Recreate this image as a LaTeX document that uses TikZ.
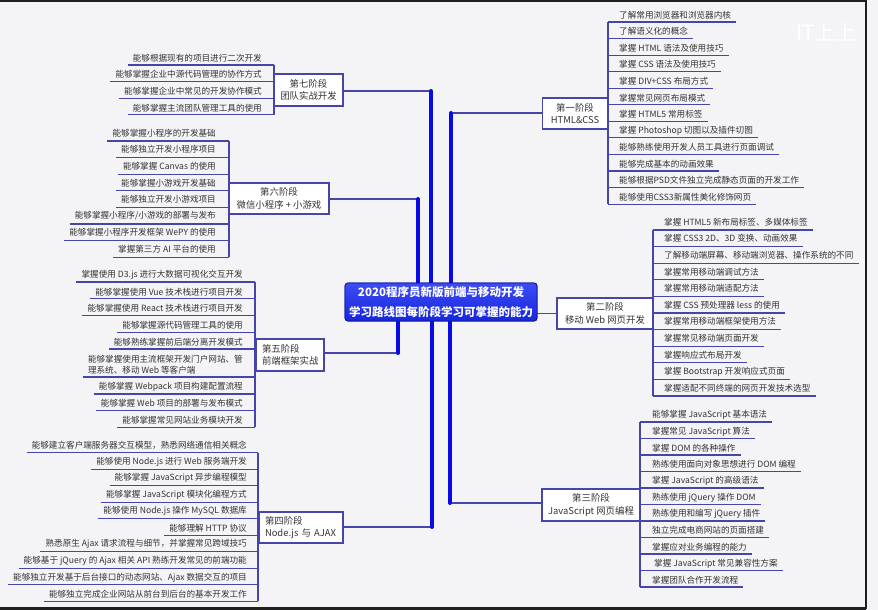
\documentclass[tikz,border=0pt]{standalone}
\usepackage{fontspec}
\newfontfamily\cjk{Noto Sans CJK SC}
\usetikzlibrary{calc}
\definecolor{bg}{HTML}{F4F4F7}
\definecolor{lineC}{HTML}{4646AA}
\definecolor{thickC}{HTML}{0A0AE6}
\definecolor{txt}{HTML}{333333}
\definecolor{rootTop}{HTML}{3C4CF5}
\definecolor{rootBot}{HTML}{1626DC}
\definecolor{rootEdge}{HTML}{1010A0}
\definecolor{frameC}{HTML}{1E1E1E}
\begin{document}
\begin{tikzpicture}[x=1pt,y=-1pt,
  itemtxt/.style={inner sep=0pt, text=txt, font=\cjk\fontsize{8.6}{10.5}\selectfont},
  uline/.style={draw=lineC, line width=1.1pt},
  stagebox/.style={draw=lineC, line width=1.1pt, fill=white, text=txt,
    font=\cjk\fontsize{9.4}{12.4}\selectfont, inner sep=0pt, align=center},
  stageboxL/.style={stagebox, align=left, inner xsep=6pt},
  rootbox/.style={rounded corners=3pt, top color=rootTop, bottom color=rootBot,
    draw=rootEdge, line width=0.8pt, text=white, align=center,
    font=\cjk\bfseries\fontsize{11.5}{20}\selectfont, inner sep=0pt},
  thickc/.style={draw=thickC, line width=4pt, line cap=round},
  thinc/.style={draw=lineC, line width=1.1pt},
]
\useasboundingbox (0,0) rectangle (878,610);
\fill[bg] (0,0) rectangle (878,610);

% watermark
\node[inner sep=0pt, anchor=west, text=white, font=\cjk\fontsize{21}{21}\selectfont] (wm) at (796,32) {IT上上};

% frame
\draw[frameC, line width=1.8pt] (0,0.9) -- (866,0.9);
\draw[frameC, line width=1.8pt] (866,0) -- (866,609);
\draw[frameC, line width=3pt] (0,608) -- (866,608);

% stage boxes
\node[stagebox, minimum width=65, minimum height=31] (s1) at (575,113.5) {第一阶段\\HTML\&CSS};
\node[stagebox, minimum width=96, minimum height=31] (s2) at (605,313.5) {第二阶段\\移动 Web 网页开发};
\node[stagebox, minimum width=98, minimum height=32] (s3) at (591,505) {第三阶段\\JavaScript 网页编程};
\node[stagebox, minimum width=69, minimum height=32] (s7) at (308.5,90) {第七阶段\\团队实战开发};
\node[stagebox, minimum width=100, minimum height=31] (s6) at (279,198.5) {第六阶段\\微信小程序 + 小游戏};
\node[stageboxL, text width=56, minimum height=32] (s5) at (290,355) {第五阶段\\前端框架实战};
\node[stageboxL, text width=72, minimum height=31] (s4) at (301,527.5) {第四阶段\\Node.js 与 AJAX};

% root
\node[rootbox, minimum width=192, minimum height=38] (root) at (441,302) {};

% connectors from root
\coordinate (k7) at (431,91);
\coordinate (k1) at (451,113);
\coordinate (k6) at (418,199);
\coordinate (k5) at (398,353);
\coordinate (k4) at (432,527);
\coordinate (k3) at (450,503);
\draw[thinc] (k7) -- (k7 -| s7.east);
\draw[thinc] (k1) -- (k1 -| s1.west);
\draw[thinc] (k6) -- (k6 -| s6.east);
\draw[thinc] (k5) -- (k5 -| s5.east);
\draw[thinc] (k4) -- (k4 -| s4.east);
\draw[thinc] (k3) -- (k3 -| s3.west);
\draw[thinc] (root.east |- s2.west) -- (s2.west);
\draw[thickc] (root.north -| k7) -- (k7);
\draw[thickc] (root.north -| k1) -- (k1);
\draw[thickc] (root.north -| k6) -- (k6);
\draw[thickc] (root.south -| k5) -- (k5);
\draw[thickc] (root.south -| k4) -- (k4);
\draw[thickc] (root.south -| k3) -- (k3);
\node[rootbox, minimum width=192, minimum height=38] (rootT) at (441,302) {2020程序员新版前端与移动开发\\学习路线图每阶段学习可掌握的能力};

% stage 1 items
\foreach \t [count=\i] in {
  {了解常用浏览器和浏览器内核},{了解语义化的概念},{掌握 HTML 语法及使用技巧},
  {掌握 CSS 语法及使用技巧},{掌握 DIV+CSS 布局方式},{掌握常见网页布局模式},
  {掌握 HTML5 常用标签},{掌握 Photoshop 切图以及插件切图},{能够熟练使用开发人员工具进行页面调试},
  {能够完成基本的动画效果},{能够根据PSD文件独立完成静态页面的开发工作},{能够使用CSS3新属性美化修饰网页}}{
  \node[itemtxt, anchor=west] (a\i) at (619,{15+16.55*(\i-1)}) {\t};
  \draw[uline] ($(a\i.west)+(-11,7)$) -- ($(a\i.east)+(5,7)$);
}
\draw[uline] ($(a1.west)+(-11,7)$) -- ($(a12.west)+(-11,7)$);

% stage 2 items
\foreach \t [count=\i] in {
  {掌握 HTML5 新布局标签、多媒体标签},{掌握 CSS3 2D、3D 变换、动画效果},
  {了解移动端屏幕、移动端浏览器、操作系统的不同},{掌握常用移动端调试方法},
  {掌握常用移动端适配方法},{掌握 CSS 预处理器 less 的使用},{掌握常用移动端框架使用方法},
  {掌握常见移动端页面开发},{掌握响应式布局开发},{掌握 Bootstrap 开发响应式页面},
  {掌握适配不同终端的网页开发技术选型}}{
  \node[itemtxt, anchor=west] (b\i) at (664,{222+16.6*(\i-1)}) {\t};
  \draw[uline] ($(b\i.west)+(-11,8)$) -- ($(b\i.east)+(5,8)$);
}
\draw[uline] ($(b1.west)+(-11,8)$) -- ($(b11.west)+(-11,8)$);

% stage 3 items
\foreach \t [count=\i] in {
  {能够掌握 JavaScript 基本语法},{掌握常见 JavaScript 算法},{掌握 DOM 的各种操作},
  {熟练使用面向对象思想进行 DOM 编程},{掌握 JavaScript 的高级语法},{熟练使用 jQuery 操作 DOM},
  {熟练使用和编写 jQuery 插件},{独立完成电商网站的页面搭建},{掌握应对业务编程的能力},
  {\kern2pt 掌握 JavaScript 常见兼容性方案},{掌握团队合作开发流程}}{
  \node[itemtxt, anchor=west] (c\i) at (652,{415+16.5*(\i-1)}) {\t};
  \draw[uline] ($(c\i.west)+(-12,7)$) -- ($(c\i.east)+(5,7)$);
}
\draw[uline] ($(c1.west)+(-12,7)$) -- ($(c11.west)+(-12,7)$);

% stage 7 items
\foreach \t [count=\i] in {
  {能够根据现有的项目进行二次开发},{能够掌握企业中源代码管理的协作方式},
  {能够掌握企业中常见的开发协作模式},{能够掌握主流团队管理工具的使用}}{
  \node[itemtxt, anchor=east] (g\i) at (262,{58+16.6*(\i-1)}) {\t};
  \draw[uline] ($(g\i.west)+(-5,7)$) -- ($(g\i.east)+(12,7)$);
}
\draw[uline] ($(g1.east)+(12,7)$) -- ($(g4.east)+(12,7)$);

% stage 6 items
\foreach \t [count=\i] in {
  {能够掌握小程序的开发基础},{能够独立开发小程序项目},{能够掌握 Canvas 的使用},
  {能够掌握小游戏开发基础},{能够独立开发小游戏项目},{能够掌握小程序/小游戏的部署与发布},
  {能够掌握小程序开发框架 WePY 的使用},{掌握第三方 AI 平台的使用}}{
  \node[itemtxt, anchor=east] (f\i) at (216,{133+16.6*(\i-1)}) {\t};
  \draw[uline] ($(f\i.west)+(-5,8)$) -- ($(f\i.east)+(13,8)$);
}
\draw[uline] ($(f1.east)+(13,8)$) -- ($(f8.east)+(13,8)$);

% stage 5 items
\foreach \t/\yy [count=\i] in {
  {掌握使用 D3.js 进行大数据可视化交互开发}/275,{能够掌握使用 Vue 技术栈进行项目开发}/291.75,
  {能够掌握使用 React 技术栈进行项目开发}/308.5,{能够掌握源代码管理工具的使用}/325.25,
  {能够熟练掌握前后端分离开发模式}/342}{
  \node[itemtxt, anchor=east] (e\i) at (243,\yy) {\t};
  \draw[uline] ($(e\i.west)+(-5,7)$) -- ($(e\i.east)+(12,7)$);
}
\node[itemtxt, anchor=east, align=left, font=\cjk\fontsize{8.6}{11}\selectfont] (e6) at (243,364.5)
  {能够掌握使用主流框架开发门户网站、管\\理系统、移动 Web 等客户端};
\draw[uline] ($(e6.west)+(-5,12.5)$) -- ($(e6.east)+(12,12.5)$);
\foreach \t/\yy [count=\i from 7] in {
  {能够掌握 Webpack 项目构建配置流程}/387,{能够掌握 Web 项目的部署与发布模式}/403.7,
  {能够掌握常见网站业务模块开发}/420.4}{
  \node[itemtxt, anchor=east] (e\i) at (243,\yy) {\t};
  \draw[uline] ($(e\i.west)+(-5,7)$) -- ($(e\i.east)+(12,7)$);
}
\draw[uline] ($(e1.east)+(12,7)$) -- ($(e9.east)+(12,7)$);

% stage 4 items
\foreach \t [count=\i] in {
  {能够建立客户端服务器交互模型，熟悉网络通信相关概念},{能够使用 Node.js 进行 Web 服务端开发},
  {能够掌握 JavaScript 异步编程模型},{能够掌握 JavaScript 模块化编程方式},
  {能够使用 Node.js 操作 MySQL 数据库},{能够理解 HTTP 协议},
  {熟悉原生 Ajax 请求流程与细节，并掌握常见跨域技巧},
  {能够基于 jQuery 的 Ajax 相关 API 熟练开发常见的前端功能},
  {能够独立开发基于后台接口的动态网站、Ajax 数据交互的项目},
  {能够独立完成企业网站从前台到后台的基本开发工作}}{
  \node[itemtxt, anchor=east] (h\i) at (247,{445+16.55*(\i-1)}) {\t};
  \draw[uline] ($(h\i.west)+(-5,7.5)$) -- ($(h\i.east)+(11,7.5)$);
}
\draw[uline] ($(h1.east)+(11,7.5)$) -- ($(h10.east)+(11,7.5)$);
\end{tikzpicture}
\end{document}
